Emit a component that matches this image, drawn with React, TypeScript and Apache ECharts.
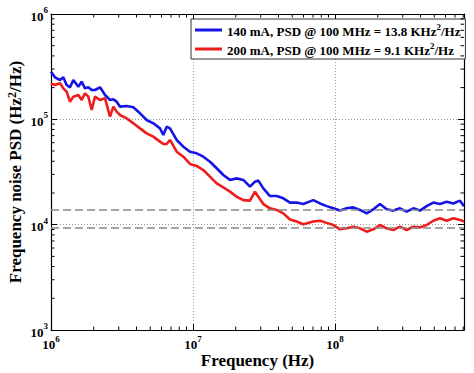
import React, { useEffect, useRef } from 'react';
import * as echarts from 'echarts';

const frequencies = [
  1.0e6, 1.067e6, 1.157e6, 1.221e6, 1.289e6, 1.361e6, 1.437e6, 1.558e6, 1.644e6, 1.735e6,
  1.832e6, 1.934e6, 2.041e6, 2.214e6, 2.401e6, 2.603e6, 2.748e6, 2.9e6, 3.062e6, 3.411e6,
  3.8e6, 4.234e6, 4.717e6, 5.255e6, 5.855e6, 6.18e6, 6.525e6, 6.887e6, 7.674e6, 8.55e6,
  9.526e6, 1.061e7, 1.182e7, 1.317e7, 1.468e7, 1.635e7, 1.822e7, 2.03e7, 2.262e7, 2.52e7,
  2.733e7, 2.885e7, 3.128e7, 3.485e7, 3.883e7, 4.326e7, 4.822e7, 5.37e7, 5.984e7, 7.037e7,
  7.842e7, 8.737e7, 9.734e7, 1.084e8, 1.208e8, 1.346e8, 1.5e8, 1.671e8, 1.862e8, 2.075e8,
  2.311e8, 2.575e8, 2.869e8, 3.197e8, 3.561e8, 3.968e8, 4.421e8, 4.926e8, 5.488e8, 6.115e8,
  6.812e8, 7.59e8, 8.1e8,
];

const psd140mA = [
  2.835e5, 2.504e5, 2.363e5, 2.504e5, 2.118e5, 2.013e5, 2.363e5, 2.04e5, 2.279e5, 1.97e5,
  2.013e5, 1.899e5, 1.899e5, 2.013e5, 1.702e5, 1.526e5, 1.548e5, 1.471e5, 1.319e5, 1.338e5,
  1.3e5, 1.14e5, 9.86e4, 9.17e4, 8.21e4, 7.1e4, 8.52e4, 8.21e4, 6.37e4, 5.5e4,
  4.93e4, 4.76e4, 4.42e4, 3.96e4, 3.43e4, 2.96e4, 2.66e4, 2.75e4, 2.66e4, 2.3e4,
  2.56e4, 2.62e4, 2.21e4, 1.87e4, 1.87e4, 1.78e4, 1.62e4, 1.62e4, 1.57e4, 1.71e4,
  1.59e4, 1.5e4, 1.43e4, 1.36e4, 1.43e4, 1.46e4, 1.38e4, 1.28e4, 1.4e4, 1.57e4,
  1.4e4, 1.36e4, 1.43e4, 1.33e4, 1.43e4, 1.36e4, 1.5e4, 1.62e4, 1.57e4, 1.65e4,
  1.59e4, 1.69e4, 1.5e4,
];

const psd200mA = [
  2.197e5, 2.118e5, 2.197e5, 1.97e5, 1.831e5, 1.471e5, 1.642e5, 1.702e5, 1.526e5, 1.766e5,
  1.642e5, 1.226e5, 1.642e5, 1.526e5, 1.583e5, 1.06e5, 1.319e5, 1.183e5, 1.099e5, 1.022e5,
  9.17e4, 8.21e4, 7.36e4, 6.85e4, 6.14e4, 5.83e4, 5.83e4, 6.37e4, 4.93e4, 4.42e4,
  3.77e4, 3.61e4, 3.3e4, 2.86e4, 2.47e4, 2.26e4, 2.06e4, 1.84e4, 1.71e4, 1.69e4,
  2.06e4, 1.84e4, 1.57e4, 1.43e4, 1.38e4, 1.28e4, 1.12e4, 1.07e4, 1.01e4, 1.07e4,
  1.09e4, 1.04e4, 9.93e3, 9.03e3, 9.23e3, 9.57e3, 9.23e3, 8.58e3, 9.03e3, 9.93e3,
  9.23e3, 8.9e3, 9.57e3, 8.9e3, 9.57e3, 9.43e3, 9.93e3, 1.09e4, 1.15e4, 1.09e4,
  1.15e4, 1.11e4, 1.07e4,
];

const referenceLevels = [13800, 9400];

const seriesNames = [
  '140 mA, PSD @ 100 MHz = 13.8 KHz²/Hz',
  '200 mA, PSD @ 100 MHz = 9.1 KHz²/Hz',
];

const xMinorTicks = [
  2e6, 3e6, 4e6, 5e6, 6e6, 7e6, 8e6, 9e6,
  2e7, 3e7, 4e7, 5e7, 6e7, 7e7, 8e7, 9e7,
  2e8, 3e8, 4e8, 5e8, 6e8, 7e8, 8e8,
];
const yMinorTicks = [
  2e3, 3e3, 4e3, 5e3, 6e3, 7e3, 8e3, 9e3,
  2e4, 3e4, 4e4, 5e4, 6e4, 7e4, 8e4, 9e4,
  2e5, 3e5, 4e5, 5e5, 6e5, 7e5, 8e5, 9e5,
];

const X_MIN = 1e6;
const X_MAX = 8.1e8;
const Y_MIN = 1e3;
const Y_MAX = 1e6;

const FONT = '"Liberation Serif", "Times New Roman", serif';

const supRich = {
  b: { fontFamily: FONT, fontWeight: 'bold', fontSize: 13, color: '#000', lineHeight: 17, verticalAlign: 'bottom' },
  s: { fontFamily: FONT, fontWeight: 'bold', fontSize: 9, color: '#000', lineHeight: 10, verticalAlign: 'top' },
};

const expLabel = (v: number) => {
  const e = Math.log10(v);
  const r = Math.round(e);
  if (Math.abs(e - r) > 1e-6) return '';
  return `{b|10}{s|${r}}`;
};

const legendLabel = (name: string) => {
  const parts = name.split('²');
  return `{t|${parts[0]}}{s|2}{t|${parts[1]}}`;
};

export default function App() {
  const ref = useRef<HTMLDivElement>(null);
  useEffect(() => {
    if (!ref.current) return;
    const chart = echarts.init(ref.current, undefined, { renderer: 'svg' });
    const tickStyle = { color: '#000', width: 1 };
    const baseX = {
      type: 'log',
      logBase: 10,
      min: X_MIN,
      max: X_MAX,
      axisLine: { show: true, lineStyle: { color: '#000', width: 1.2 } },
      axisTick: { show: true, inside: true, length: 6, lineStyle: tickStyle },
    };
    const baseY = {
      type: 'log',
      logBase: 10,
      min: Y_MIN,
      max: Y_MAX,
      axisLine: { show: true, lineStyle: { color: '#000', width: 1.2 } },
      axisTick: { show: true, inside: true, length: 6, lineStyle: tickStyle },
    };
    const minorTickSeries = (vals: number[], dir: 'x' | 'y') => ({
      type: 'custom',
      coordinateSystem: 'cartesian2d',
      xAxisIndex: 0,
      yAxisIndex: 0,
      silent: true,
      z: 10,
      data: vals.map((v) => (dir === 'x' ? [v, Y_MIN] : [X_MIN, v])),
      renderItem: (params: any, api: any) => {
        const cs = params.coordSys;
        const p = api.coord([api.value(0), api.value(1)]);
        const L = 3.5;
        const st = { stroke: '#000', lineWidth: 1 };
        if (dir === 'x') {
          const x = p[0];
          return {
            type: 'group',
            children: [
              { type: 'line', shape: { x1: x, y1: cs.y + cs.height, x2: x, y2: cs.y + cs.height - L }, style: st },
              { type: 'line', shape: { x1: x, y1: cs.y, x2: x, y2: cs.y + L }, style: st },
            ],
          };
        }
        const y = p[1];
        return {
          type: 'group',
          children: [
            { type: 'line', shape: { x1: cs.x, y1: y, x2: cs.x + L, y2: y }, style: st },
            { type: 'line', shape: { x1: cs.x + cs.width, y1: y, x2: cs.x + cs.width - L, y2: y }, style: st },
          ],
        };
      },
    });

    chart.setOption({
      animation: false,
      backgroundColor: '#fff',
      grid: { left: 51, right: 10, top: 14, bottom: 43, containLabel: false, outerBoundsMode: 'none' },
      legend: {
        data: seriesNames,
        orient: 'vertical',
        left: 191,
        top: 19,
        padding: [3, 5, 2, 4],
        itemGap: 3,
        itemWidth: 27,
        itemHeight: 3,
        icon: 'rect',
        backgroundColor: '#fff',
        borderColor: '#333',
        borderWidth: 1,
        borderRadius: 0,
        formatter: legendLabel,
        textStyle: {
          rich: {
            t: { fontFamily: FONT, fontWeight: 'bold', fontSize: 13, color: '#000', lineHeight: 16, verticalAlign: 'bottom' },
            s: { fontFamily: FONT, fontWeight: 'bold', fontSize: 9, color: '#000', lineHeight: 10, verticalAlign: 'top' },
          },
        },
      },
      xAxis: [
        {
          ...baseX,
          position: 'bottom',
          name: 'Frequency (Hz)',
          nameLocation: 'middle',
          nameGap: 30,
          nameMoveOverlap: false,
          nameTextStyle: {
            fontFamily: FONT,
            fontWeight: 'bold',
            fontSize: 17,
            color: '#000',
            lineHeight: 18,
            verticalAlign: 'middle',
          },
          axisLabel: { show: true, margin: 4, formatter: expLabel, rich: supRich },
          splitLine: { show: true, lineStyle: { color: '#999', width: 1, type: [1, 2] } },
        },
        {
          ...baseX,
          position: 'top',
          axisLabel: { show: false },
          splitLine: { show: false },
        },
      ],
      yAxis: [
        {
          ...baseY,
          position: 'left',
          name: '{a|Frequency noise PSD (Hz}{s|2}{a|/Hz)}',
          nameLocation: 'middle',
          nameGap: 27,
          nameMoveOverlap: false,
          nameRotate: 90,
          nameTextStyle: {
            rich: {
              a: { fontFamily: FONT, fontWeight: 'bold', fontSize: 17, color: '#000', lineHeight: 18, verticalAlign: 'bottom' },
              s: { fontFamily: FONT, fontWeight: 'bold', fontSize: 12, color: '#000', lineHeight: 12, verticalAlign: 'top' },
            },
          },
          axisLabel: { show: true, margin: 3, formatter: expLabel, rich: supRich },
          splitLine: { show: true, lineStyle: { color: '#999', width: 1, type: [1, 2] } },
        },
        {
          ...baseY,
          position: 'right',
          axisLabel: { show: false },
          splitLine: { show: false },
        },
      ],
      series: [
        {
          type: 'line',
          name: 'ref',
          data: [],
          silent: true,
          z: 1,
          markLine: {
            silent: true,
            symbol: 'none',
            label: { show: false },
            lineStyle: { color: '#888', width: 1.5, type: [8, 4] },
            data: referenceLevels.map((v) => ({ yAxis: v })),
          },
        },
        {
          type: 'line',
          name: seriesNames[0],
          data: frequencies.map((f, i) => [f, psd140mA[i]]),
          showSymbol: false,
          symbol: 'none',
          z: 3,
          lineStyle: { color: '#1414e6', width: 2.6 },
          itemStyle: { color: '#1414e6' },
        },
        {
          type: 'line',
          name: seriesNames[1],
          data: frequencies.map((f, i) => [f, psd200mA[i]]),
          showSymbol: false,
          symbol: 'none',
          z: 4,
          lineStyle: { color: '#ee1c1c', width: 2.6 },
          itemStyle: { color: '#ee1c1c' },
        },
        minorTickSeries(xMinorTicks, 'x'),
        minorTickSeries(yMinorTicks, 'y'),
      ],
    });
    return () => chart.dispose();
  }, []);
  return (
    <div
      ref={ref}
      style={{ position: 'fixed', left: 0, top: 0, width: 474, height: 373, background: '#fff' }}
    />
  );
}
